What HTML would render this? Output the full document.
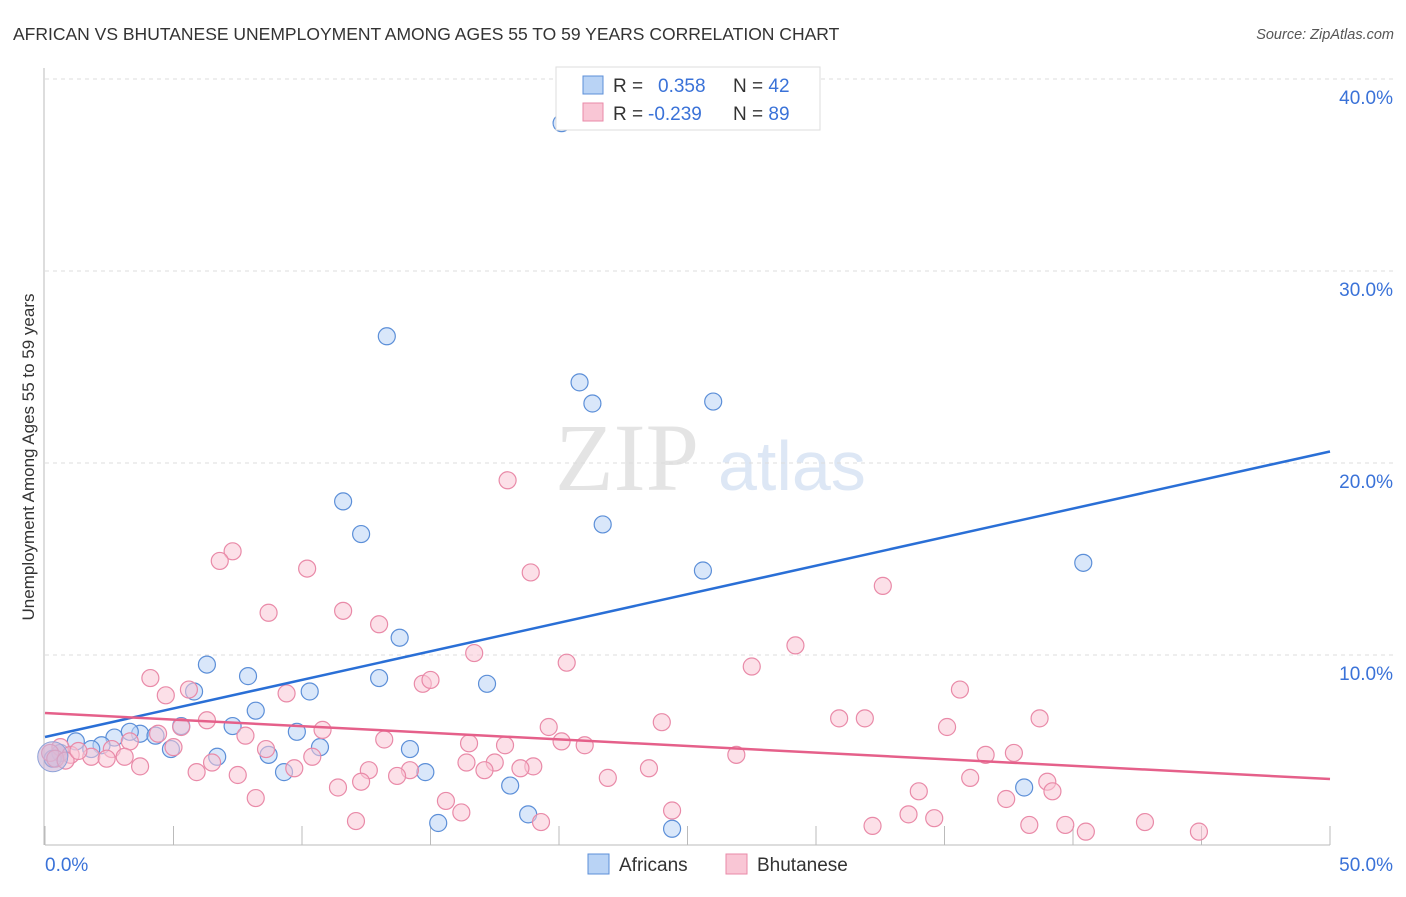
<!DOCTYPE html>
<html><head><meta charset="utf-8"><style>
body{margin:0;background:#fff;font-family:"Liberation Sans",sans-serif}
</style></head><body>
<svg width="1406" height="892" xmlns="http://www.w3.org/2000/svg" font-family="Liberation Sans, sans-serif">
<text x="13" y="40" font-size="17.5" fill="#333">AFRICAN VS BHUTANESE UNEMPLOYMENT AMONG AGES 55 TO 59 YEARS CORRELATION CHART</text>
<text x="1394" y="39" font-size="14.5" fill="#555" font-style="italic" text-anchor="end">Source: ZipAtlas.com</text>
<text x="555" y="490" font-size="96" fill="#e4e4e4" font-family="Liberation Serif, serif">ZIP</text>
<text x="718" y="490" font-size="70" fill="#dde7f5">atlas</text>
<g id="grid"></g>
<g id="axes"></g>
<g id="pts"></g>
<g id="lines"></g>
<text transform="translate(34,457) rotate(-90)" font-size="17" fill="#333" text-anchor="middle">Unemployment Among Ages 55 to 59 years</text>
<g>
<rect x="556" y="67" width="264" height="63" fill="#fff" stroke="#ddd"/>
<rect x="583" y="76" width="20" height="18" fill="#b9d3f5" stroke="#5c8fd8"/>
<rect x="583" y="103" width="20" height="18" fill="#f9c6d5" stroke="#e98aa8"/>
<text x="613" y="92" font-size="19" fill="#333">R = <tspan fill="#3a72d8" x="658">0.358</tspan><tspan x="733" fill="#333">N = </tspan><tspan fill="#3a72d8">42</tspan></text>
<text x="613" y="120" font-size="19" fill="#333">R = <tspan fill="#3a72d8" x="648">-0.239</tspan><tspan x="733" fill="#333">N = </tspan><tspan fill="#3a72d8">89</tspan></text>
</g>
<g>
<rect x="588" y="854" width="21" height="20" fill="#b9d3f5" stroke="#5c8fd8"/>
<text x="619" y="871" font-size="19" fill="#333">Africans</text>
<rect x="726" y="854" width="21" height="20" fill="#f9c6d5" stroke="#e98aa8"/>
<text x="757" y="871" font-size="19" fill="#333">Bhutanese</text>
</g>
</svg>
<script>
const xTicks=[0,5,10,15,20,25,30,35,40,45,50];
const yTicks=[10,20,30,40];
const yTickLabels=["10.0%","20.0%","30.0%","40.0%"];
const xEndLabels=["0.0%","50.0%"];
const africanX=[20.1,13.3,20.8,21.3,26.0,11.6,12.3,21.7,25.6,40.4,13.8,6.3,7.9,5.8,13.0,10.3,17.2,8.2,5.3,7.3,3.7,9.8,4.3,2.7,3.3,1.2,10.7,14.2,4.9,6.7,8.7,2.2,1.8,0.6,0.3,9.3,14.8,18.1,38.1,18.8,15.3,24.4];
const africanY=[37.7,26.6,24.2,23.1,23.2,18.0,16.3,16.8,14.4,14.8,10.9,9.5,8.9,8.1,8.8,8.1,8.5,7.1,6.3,6.3,5.9,6.0,5.8,5.7,6.0,5.5,5.2,5.1,5.1,4.7,4.8,5.3,5.1,4.9,4.6,3.9,3.9,3.2,3.1,1.7,1.25,0.95];
const bhutanX=[18.0,7.3,6.8,10.2,18.9,32.6,8.7,11.6,13.0,29.2,16.7,20.3,27.5,4.1,4.7,5.6,9.4,14.7,15.0,35.6,30.9,31.9,38.7,24.0,6.3,19.6,35.1,10.8,5.3,7.8,4.4,13.2,16.5,17.9,20.1,21.0,3.3,8.6,5.0,2.6,36.6,37.7,26.9,1.8,10.4,6.5,3.1,2.4,16.4,17.5,3.7,19.0,18.5,23.5,7.5,12.6,14.2,17.1,5.9,9.7,13.7,21.9,36.0,39.0,12.3,11.4,34.0,39.2,8.2,15.6,37.4,16.2,24.4,33.6,34.6,19.3,12.1,32.2,38.3,39.7,42.8,40.5,44.9,0.6,0.2,1.0,0.4,0.8,1.3];
const bhutanY=[19.1,15.4,14.9,14.5,14.3,13.6,12.2,12.3,11.6,10.5,10.1,9.6,9.4,8.8,7.9,8.2,8.0,8.5,8.7,8.2,6.7,6.7,6.7,6.5,6.6,6.25,6.25,6.1,6.25,5.8,5.9,5.6,5.4,5.3,5.5,5.3,5.5,5.1,5.2,5.1,4.8,4.9,4.8,4.7,4.7,4.4,4.7,4.6,4.4,4.4,4.2,4.2,4.1,4.1,3.75,4.0,4.0,4.0,3.9,4.1,3.7,3.6,3.6,3.4,3.4,3.1,2.9,2.9,2.55,2.4,2.5,1.8,1.9,1.7,1.5,1.3,1.35,1.1,1.15,1.15,1.3,0.8,0.8,5.2,4.9,4.8,4.6,4.5,5.0];
const africanTrend=[5.73,20.6];
const bhutanTrend=[6.98,3.54];
const sx=v=>45+v/50*1285;
const sy=v=>847-v*19.2;
const NS="http://www.w3.org/2000/svg";
function mk(tag,attrs,parent){const e=document.createElementNS(NS,tag);for(const k in attrs)e.setAttribute(k,attrs[k]);document.getElementById(parent).appendChild(e);return e;}
yTicks.forEach((t,i)=>{
 const l=mk('line',{x1:45,x2:1393,y1:sy(t),y2:sy(t),stroke:'#ddd','stroke-dasharray':'4,4'},'grid');
 
 
 const tx=mk('text',{x:1393,y:sy(t)+25,'font-size':19,fill:'#3a72d8','text-anchor':'end'},'grid');
 tx.textContent=yTickLabels[i];
 
 
});
const ax=mk('line',{x1:45,x2:1330,y1:845,y2:845,stroke:'#bbb'},'axes');


const ay=mk('line',{x1:44,x2:44,y1:68,y2:845,stroke:'#bbb'},'axes');


xTicks.forEach(t=>{
 const l=mk('line',{x1:sx(t),x2:sx(t),y1:826,y2:845,stroke:'#bbb'},'axes');
 
 
});
[[0,'start',45],[50,'end',1393]].forEach((d,i)=>{
 const tx=mk('text',{x:d[2],y:871,'font-size':19,fill:'#3a72d8','text-anchor':d[1]},'axes');
 tx.textContent=xEndLabels[i];
 
 
});
function dots(X,Y,fill,stroke,name){
 X.forEach((x,i)=>{
  const c=mk('circle',{cx:sx(x),cy:sy(Y[i]),r:8.5,fill:fill,'fill-opacity':0.55,stroke:stroke,'stroke-width':1.2},'pts');
  
  
 });
}
dots(africanX,africanY,'#b9d3f5','#5c8fd8','african-point');
dots(bhutanX,bhutanY,'#f9c6d5','#e98aa8','bhutanese-point');
const big=mk('circle',{cx:sx(0.3),cy:sy(4.7),r:15,fill:'#c9b3d6','fill-opacity':0.6,stroke:'#8fa3d8'},'pts');


const tl1=mk('line',{x1:sx(0),y1:sy(africanTrend[0]),x2:sx(50),y2:sy(africanTrend[1]),stroke:'#2a6fd6','stroke-width':2.5},'lines');


const tl2=mk('line',{x1:sx(0),y1:sy(bhutanTrend[0]),x2:sx(50),y2:sy(bhutanTrend[1]),stroke:'#e5608a','stroke-width':2.5},'lines');


</script>
</body></html>
